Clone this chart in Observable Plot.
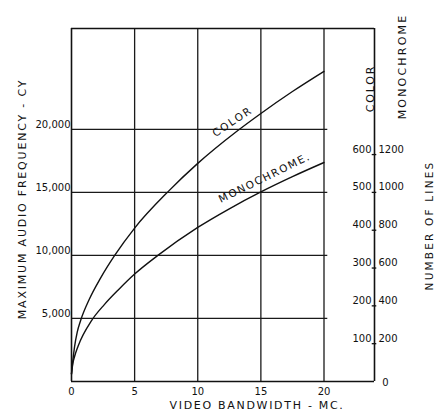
<!DOCTYPE html>
<html>
<head>
<meta charset="utf-8">
<script src="https://cdn.jsdelivr.net/npm/d3@7"></script>
<script src="https://cdn.jsdelivr.net/npm/@observablehq/plot@0.6"></script>
<style>
  html, body { margin: 0; padding: 0; background: #fff; }
  svg { display: block; }
</style>
</head>
<body>
<div id="chart"></div>
<script>
// ---- data ----
const colorBandwidth = [0, 0.1, 0.24, 0.45, 0.71, 1.4, 2.3, 3.42, 5, 7.69, 10, 13.1, 15, 17.5, 20];
const colorFreq      = [600, 1600, 2750, 3900, 4800, 6500, 8200, 10000, 12170, 15100, 17300, 19850, 21260, 23000, 24600];
const monoBandwidth  = [0, 0.1, 0.25, 0.52, 1.6, 2.6, 3.74, 5, 6.84, 10, 12.5, 15, 17.5, 20];
const monoFreq       = [600, 1400, 2000, 2800, 4850, 6100, 7300, 8520, 10000, 12220, 13700, 15040, 16250, 17370];
const xTicks = [0, 5, 10, 15, 20];
const yTicks = [5000, 10000, 15000, 20000];
const colorLineTicks = [100, 200, 300, 400, 500, 600];
const monoLineTicks  = [200, 400, 600, 800, 1000, 1200];
const freqPerColorLine = 30; // audio cycles per color line (right scale)
const xMax = 24, yMax = 28000, gridEnd = 20.3;
const curveLabels = [
  {text: "COLOR", x: 12.75, y: 20600, angle: -34},
  {text: "MONOCHROME.", x: 15.3, y: 16150, angle: -26}
];

const colorData = colorBandwidth.map((b, i) => ({x: b, y: colorFreq[i]}));
const monoData = monoBandwidth.map((b, i) => ({x: b, y: monoFreq[i]}));
const lineTicks = colorLineTicks.map((c, i) => ({c, m: monoLineTicks[i], y: c * freqPerColorLine}));

const font = "DejaVu Sans";
const ink = "#111";
const chart = Plot.plot({
  width: 434,
  height: 413,
  marginLeft: 71,
  marginRight: 60,
  marginTop: 28,
  marginBottom: 32,
  style: {fontFamily: font, background: "#fff", color: ink},
  x: {domain: [0, xMax], axis: null},
  y: {domain: [0, yMax], axis: null},
  marks: [
    // horizontal grid lines
    Plot.ruleY(yTicks, {x1: 0, x2: gridEnd, stroke: "#1a1a1a", strokeWidth: 1.3}),
    // vertical grid lines
    Plot.ruleX(xTicks.slice(1), {y1: 0, y2: yMax, stroke: "#1a1a1a", strokeWidth: 1.3}),
    // frame
    Plot.ruleX([0, xMax], {y1: 0, y2: yMax, stroke: ink, strokeWidth: 1.6}),
    Plot.ruleY([0, yMax], {x1: 0, x2: xMax, stroke: ink, strokeWidth: 1.6}),
    // right axis ticks
    Plot.ruleY(lineTicks, {y: "y", x1: xMax - 0.18, x2: xMax + 0.18, stroke: ink, strokeWidth: 1.3}),
    // curves
    Plot.line(colorData, {x: "x", y: "y", curve: "monotone-x", stroke: ink, strokeWidth: 1.4}),
    Plot.line(monoData, {x: "x", y: "y", curve: "monotone-x", stroke: ink, strokeWidth: 1.4}),
    // y tick labels
    Plot.text(yTicks, {x: 0, y: d => d, text: d => d3.format(",")(d), textAnchor: "end", lineAnchor: "bottom", dx: -1, dy: -1, fontSize: 10, fill: ink}),
    // x tick labels
    Plot.text(xTicks, {x: d => d, y: 0, text: d => String(d), lineAnchor: "top", dy: 6, fontSize: 10, fill: ink}),
    // right axis labels
    Plot.text(lineTicks, {x: () => xMax, y: "y", text: d => String(d.c), textAnchor: "end", lineAnchor: "bottom", dx: -3, dy: -2, fontSize: 10, fill: ink}),
    Plot.text(lineTicks, {x: () => xMax, y: "y", text: d => String(d.m), textAnchor: "start", lineAnchor: "bottom", dx: 4, dy: -2, fontSize: 10, fill: ink}),
    Plot.text(["0"], {x: () => xMax, y: () => 0, text: d => d, dx: 11, dy: 1, fontSize: 10, fill: ink}),
    // curve labels
    Plot.text(curveLabels, {x: "x", y: "y", text: "text", rotate: d => d.angle, fontSize: 10.5, fill: ink}),
    // titles
    Plot.text(["MAXIMUM AUDIO FREQUENCY - CY"], {frameAnchor: "left", textAnchor: "middle", text: d => d, rotate: -90, dx: -49, dy: -6, fontSize: 11, fill: ink}),
    Plot.text(["VIDEO BANDWIDTH - MC."], {frameAnchor: "bottom", textAnchor: "middle", text: d => d, dx: 34, dy: 27, fontSize: 11, fill: ink}),
    Plot.text(["COLOR"], {frameAnchor: "top-right", textAnchor: "middle", text: d => d, rotate: -90, dx: -8, dy: 60, fontSize: 11, fill: ink}),
    Plot.text(["MONOCHROME"], {frameAnchor: "top-right", textAnchor: "middle", text: d => d, rotate: -90, dx: 24, dy: 38, fontSize: 11, fill: ink}),
    Plot.text(["NUMBER OF LINES"], {frameAnchor: "top-right", textAnchor: "middle", text: d => d, rotate: -90, dx: 51, dy: 197, fontSize: 10.5, fill: ink})
  ]
});
document.getElementById("chart").appendChild(chart);

// letter spacing for the lettering-style titles
const spaced = {
  "MAXIMUM AUDIO FREQUENCY - CY": 1.8,
  "VIDEO BANDWIDTH - MC.": 1.7,
  "COLOR": 1.8,
  "MONOCHROME": 2.2,
  "NUMBER OF LINES": 2.2,
  "MONOCHROME.": 1.6
};
d3.select(chart).selectAll("text").each(function() {
  const t = this.textContent;
  if (spaced[t] != null) this.setAttribute("letter-spacing", spaced[t]);
});
</script>
</body>
</html>
